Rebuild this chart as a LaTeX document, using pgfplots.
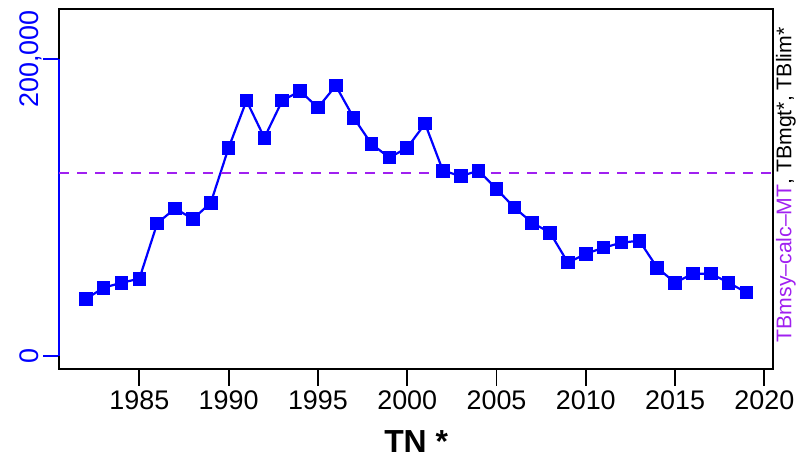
\documentclass[border=0pt]{standalone}
\usepackage{fontspec}
\setmainfont{Liberation Sans}
\usepackage{pgfplots}
\pgfplotsset{compat=1.18}
\definecolor{rblue}{HTML}{0000FF}
\definecolor{rpurple}{HTML}{A020F0}
\pgfplotstableread{
year tn
1982 38200
1983 45800
1984 49200
1985 51900
1986 89200
1987 99300
1988 92100
1989 103100
1990 140200
1991 171900
1992 146900
1993 171900
1994 178400
1995 167200
1996 182000
1997 160400
1998 142700
1999 133500
2000 140200
2001 156400
2002 124700
2003 121100
2004 124700
2005 112400
2006 99800
2007 89600
2008 82900
2009 62700
2010 68700
2011 72800
2012 76200
2013 77500
2014 59300
2015 49200
2016 55300
2017 55300
2018 49200
2019 42500
}\tndata
\begin{document}
\begin{tikzpicture}
\useasboundingbox (0,0) rectangle (796bp,466bp);
\begin{axis}[
  at={(59bp,96.7bp)}, anchor=south west,
  scale only axis, width=714.3bp, height=360bp,
  xmin=1980.5, xmax=2020.5, ymin=-9170, ymax=233500,
  scaled x ticks=false, scaled y ticks=false,
  axis line style={black, line width=1.8bp},
  xtick={1985,1990,1995,2000,2005,2010,2015,2020},
  xticklabels={1985,1990,1995,2000,2005,2010,2015,2020},
  ytick={0,200000}, yticklabels={0,{200,000}},
  tick align=inside, major tick length=-16.5bp,
  xtick pos=bottom, ytick pos=left,
  xtick style={black, line width=1.8bp},
  ytick style={rblue, line width=1.8bp},
  ticklabel style={font=\fontsize{27}{27}\selectfont},
  xticklabel style={anchor=base, yshift=-40.7bp},
  yticklabel style={xshift=-20.5bp, rotate=90, anchor=base, text=rblue},
  xlabel={TN *},
  xlabel style={font=\fontsize{32}{32}\selectfont\bfseries, at={(axis description cs:0.5,0)}, anchor=base, yshift=-82.7bp},
  clip=false,
]
\addplot[rblue, line width=2bp, forget plot] coordinates {(1980.5,0) (1980.5,200000)};
\addplot[rblue, line width=2.2bp, mark=square*, mark size=6.3bp, mark options={solid, fill=rblue, draw=rblue, line width=0pt}] table[x=year, y=tn] {\tndata};
\addplot[rpurple, line width=2.2bp, dash pattern=on 10bp off 8bp] coordinates {(1980.5,123300) (2020.5,123300)};
\end{axis}
\node[rotate=90, font=\fontsize{21.3}{21.3}\selectfont, inner sep=0pt] at (786bp,281bp) {\textcolor{rpurple}{TBmsy–calc–MT}, TBmgt*, TBlim*};
\end{tikzpicture}
\end{document}
